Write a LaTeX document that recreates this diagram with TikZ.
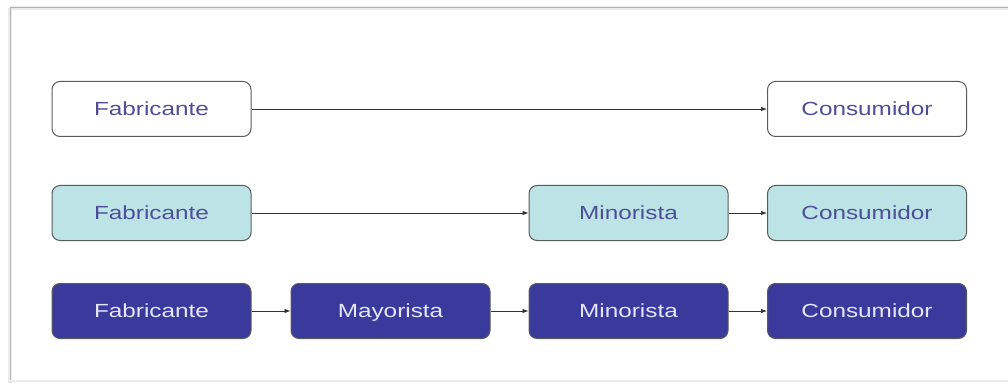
\documentclass[tikz,border=0pt]{standalone}
\usepackage{fontspec}
\setmainfont{Liberation Sans}[FakeStretch=1.28]
\usetikzlibrary{arrows.meta}
\definecolor{txtblue}{HTML}{4E4E98}
\definecolor{darkfill}{HTML}{3A3A9C}
\definecolor{lightfill}{HTML}{BCE3E6}
\definecolor{boxline}{HTML}{5A5A5A}
\tikzset{
  stage/.style={draw=boxline, line width=1pt, rounded corners=8pt, minimum width=199pt, minimum height=55pt, inner sep=0pt, text height=13pt, text depth=0.5pt, font=\fontsize{19}{22}\selectfont},
  plain/.style={stage, fill=white, text=txtblue},
  light/.style={stage, fill=lightfill, text=txtblue},
  dark/.style={stage, fill=darkfill, text=white!90!blue},
  flow/.style={draw=black!80, line width=0.7pt, -{Latex[length=6pt,width=4.5pt]}}
}
\begin{document}
\begin{tikzpicture}[x=1pt,y=1pt]
\useasboundingbox (0,0) rectangle (1008,383);
% frame
\draw[black!8, line width=4pt] (10,375) -- (1008,375);
\draw[black!30, line width=1pt] (10,375) -- (1008,375);
\draw[black!8, line width=4pt] (10,0) -- (10,375);
\draw[black!28, line width=1pt] (10,0) -- (10,375);
\draw[black!8, line width=1.5pt] (10,2) -- (1008,2);
% row 1
\node[plain] (f1) at (151.5,274) {Fabricante};
\node[plain] (c1) at (867,274) {Consumidor};
% row 2
\node[light] (f2) at (151.5,170) {Fabricante};
\node[light] (m2) at (628.5,170) {Minorista};
\node[light] (c2) at (867,170) {Consumidor};
% row 3
\node[dark] (f3) at (151.5,72) {Fabricante};
\node[dark] (y3) at (390.5,72) {Mayorista};
\node[dark] (m3) at (628.5,72) {Minorista};
\node[dark] (c3) at (867,72) {Consumidor};
% arrows
\draw[flow] (f1) -- (c1);
\draw[flow] (f2) -- (m2);
\draw[flow] (m2) -- (c2);
\draw[flow] (f3) -- (y3);
\draw[flow] (y3) -- (m3);
\draw[flow] (m3) -- (c3);
\end{tikzpicture}
\end{document}
